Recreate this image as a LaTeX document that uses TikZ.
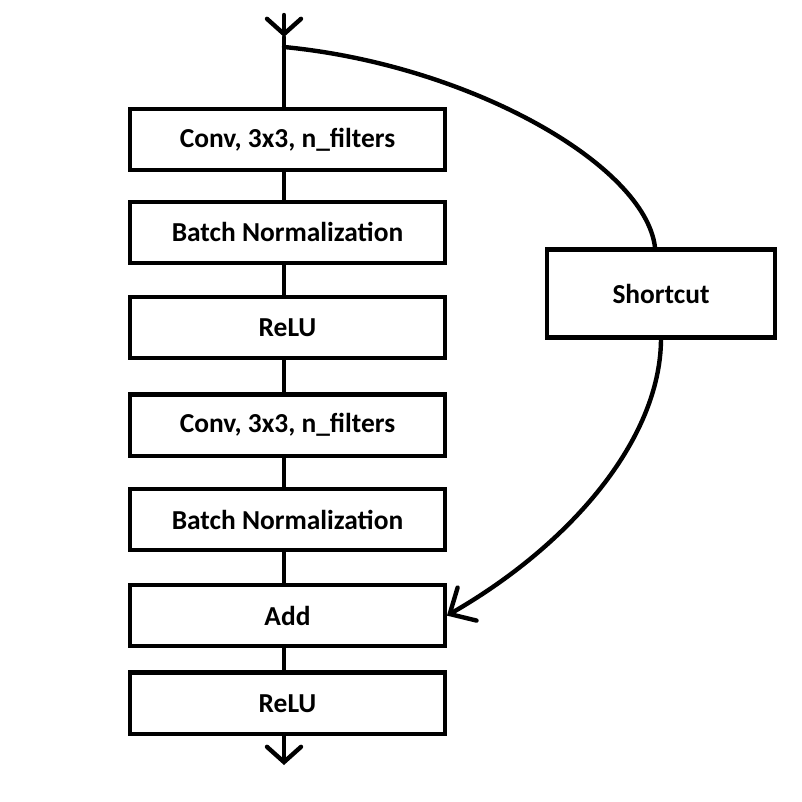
\documentclass[tikz,border=0pt]{standalone}
\usepackage{fontspec}
\setmainfont{Carlito}
\usetikzlibrary{arrows.meta,positioning,calc}
\tikzset{
    layer/.style={draw, line width=0.11cm, minimum width=7.86cm, minimum height=1.53cm, font=\fontsize{19.5}{22}\selectfont\bfseries},
    shortbox/.style={draw, line width=0.11cm, minimum width=5.7cm, minimum height=2.2cm, font=\fontsize{19.5}{22}\selectfont\bfseries},
    wire/.style={line width=0.11cm, line cap=round},
    flow/.style={wire, -{Straight Barb[length=0.38cm, width=0.85cm, line cap=round]}},
    skip/.style={wire, -{Straight Barb[length=0.5cm, width=0.95cm, line cap=round]}}
}
\begin{document}
\begin{tikzpicture}[x=0.025cm, y=-0.025cm]
    \useasboundingbox (0,0) rectangle (802,802);
    \node[layer] (conv1) at (287.5,139.5) {Conv, 3x3, n\_filters};
    \node[layer, below=0.68cm of conv1] (bn1) {Batch Normalization};
    \node[layer, below=0.74cm of bn1] (relu1) {ReLU};
    \node[layer, below=0.8cm of relu1] (conv2) {Conv, 3x3, n\_filters};
    \node[layer, below=0.72cm of conv2] (bn2) {Batch Normalization};
    \node[layer, below=0.76cm of bn2] (add) {Add};
    \node[layer, below=0.55cm of add] (relu2) {ReLU};
    \node[shortbox] (short) at (661,293.5) {Shortcut};

    \coordinate (in) at (284,15);
    \coordinate (inTip) at (284,37);
    \coordinate (split) at (284,47);
    \coordinate (out) at (284,765);

    % main path
    \draw[flow] (in) -- (inTip);
    \draw[wire] (inTip) -- (inTip |- conv1.north);
    \draw[wire] (conv1.south -| in) -- (bn1.north -| in);
    \draw[wire] (bn1.south -| in) -- (relu1.north -| in);
    \draw[wire] (relu1.south -| in) -- (conv2.north -| in);
    \draw[wire] (conv2.south -| in) -- (bn2.north -| in);
    \draw[wire] (bn2.south -| in) -- (add.north -| in);
    \draw[wire] (add.south -| in) -- (relu2.north -| in);
    \draw[flow] (relu2.south -| out) -- (out);

    % shortcut
    \draw[wire] (split) .. controls (470,65) and (645,165) .. ([xshift=-0.15cm]short.north);
    \draw[skip] (short.south) .. controls (660,440) and (570,545) .. (add.east);
\end{tikzpicture}
\end{document}
